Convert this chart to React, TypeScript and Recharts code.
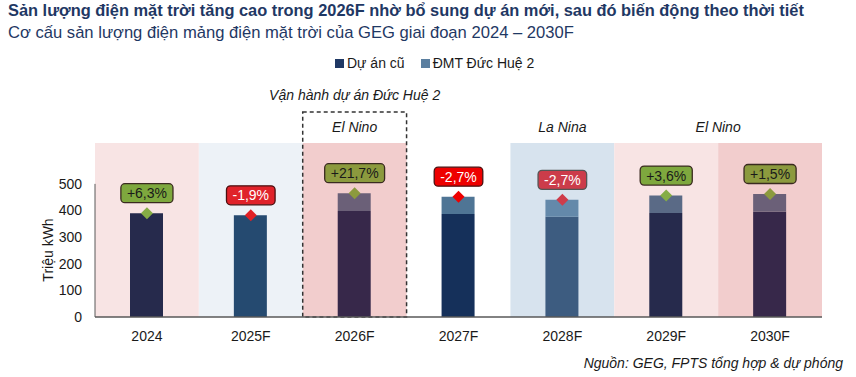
import {
  ComposedChart,
  Bar,
  Line,
  XAxis,
  YAxis,
  Cell,
  LabelList,
  ReferenceArea,
  ReferenceLine,
} from 'recharts';

const years = ['2024', '2025F', '2026F', '2027F', '2028F', '2029F', '2030F'];
const oldProjects = [390, 382, 398, 387, 377, 391, 395];
const ducHue2 = [0, 0, 67, 65, 63, 65, 67];
const growth = ['+6,3%', '-1,9%', '+21,7%', '-2,7%', '-2,7%', '+3,6%', '+1,5%'];
const yTicks = [0, 100, 200, 300, 400, 500];

// colours per year (the bands tint what sits on them)
const bandFill = ['#f8e4e4', '#edf2f7', '#f2cdcd', 'none', '#d7e3ee', '#f8e4e4', '#f2cdcd'];
const oldFill = ['#262a4c', '#254a70', '#37284a', '#15305a', '#3d5c80', '#262a4c', '#37284a'];
const newFill = ['#5a6a86', '#5a6a86', '#6b6078', '#4f7595', '#6489aa', '#5a6a86', '#6b6078'];
const markFill = ['#86ad45', '#e02025', '#8c9a3e', '#ee0000', '#cf3c4a', '#86ad45', '#8c9a3e'];
const pillFill = ['#7ea83e', '#e0222a', '#8c9a3e', '#ee0000', '#cc3c4a', '#7ea83e', '#8c9a3e'];
const pillText = ['#1a1a1a', '#ffffff', '#1a1a1a', '#ffffff', '#ffffff', '#1a1a1a', '#1a1a1a'];
const pillStroke = ['#3a2a20', '#4a1010', '#3a2a20', '#4a1010', '#555555', '#3a2a20', '#3a2a20'];

const data = years.map((year, i) => ({
  year,
  old: oldProjects[i],
  duchue: ducHue2[i],
  total: oldProjects[i] + ducHue2[i],
  growth: growth[i],
}));

const FONT = '"Liberation Sans", Arial, sans-serif';
const NAVY = '#1f3864';

const charW: Record<string, number> = { '+': 8.2, '-': 4.7, ',': 3.9, '%': 12.4 };
const textWidth = (s: string) => s.split('').reduce((w, c) => w + (charW[c] ?? 7.8), 0);

const Diamond = (props: any) => {
  const { cx, cy, index } = props;
  if (cx == null || cy == null) return <g key={index} />;
  const r = 6;
  return (
    <path
      key={index}
      d={`M${cx},${cy - r}L${cx + r},${cy}L${cx},${cy + r}L${cx - r},${cy}Z`}
      fill={markFill[index]}
    />
  );
};

const Pill = (props: any) => {
  const { x, y, value, index } = props;
  if (x == null || y == null) return null;
  const w = textWidth(String(value)) + 12;
  const h = 19;
  const cy = y - 20;
  return (
    <g>
      <rect
        x={x - w / 2}
        y={cy - h / 2}
        width={w}
        height={h}
        rx={4}
        fill={pillFill[index]}
        stroke={pillStroke[index]}
        strokeWidth={1.3}
      />
      <text x={x} y={cy + 5} textAnchor="middle" fontSize={14} fontFamily={FONT} fill={pillText[index]}>
        {value}
      </text>
    </g>
  );
};

const italicLabel = (value: string, position: any, offset = 5) => ({
  value,
  position,
  offset,
  fill: '#1a1a1a',
  fontSize: 14,
  fontStyle: 'italic',
  fontFamily: FONT,
});

const LegendBox = () => (
  <div
    style={{
      position: 'absolute',
      left: 335,
      top: 55,
      display: 'flex',
      alignItems: 'center',
      fontSize: 14,
      color: '#1a1a1a',
      whiteSpace: 'nowrap',
    }}
  >
    <span style={{ width: 9, height: 9, background: NAVY, display: 'inline-block', marginRight: 3 }} />
    <span style={{ marginRight: 16 }}>Dự án cũ</span>
    <span style={{ width: 9, height: 9, background: '#5b7fa0', display: 'inline-block', marginRight: 3 }} />
    <span>ĐMT Đức Huệ 2</span>
  </div>
);

export default function App() {
  return (
    <div style={{ position: 'absolute', left: 0, top: 0, width: 856, height: 377, background: '#fff', fontFamily: FONT }}>
      <div style={{ position: 'absolute', left: 0, top: 0 }}>
        <ComposedChart
          width={856}
          height={377}
          data={data}
          margin={{ top: 112, right: 34, bottom: 30, left: 45 }}
        >
          {years.map((y, i) =>
            bandFill[i] === 'none' ? null : (
              <ReferenceArea key={y} x1={y} x2={y} y1={0} y2={654} fill={bandFill[i]} fillOpacity={1} stroke="none" />
            )
          )}
          <ReferenceArea
            x1="2026F"
            x2="2026F"
            y1={0}
            y2={770}
            fill="none"
            stroke="#333"
            strokeWidth={1.5}
            strokeDasharray="4 3"
            label={italicLabel('Vận hành dự án Đức Huệ 2', 'top', 12)}
          />
          <ReferenceArea x1="2026F" x2="2026F" y1={654} y2={770} fill="none" stroke="none" label={italicLabel('El Nino', 'center')} />
          <ReferenceArea x1="2028F" x2="2028F" y1={654} y2={770} fill="none" stroke="none" label={italicLabel('La Nina', 'center')} />
          <ReferenceArea x1="2029F" x2="2030F" y1={654} y2={770} fill="none" stroke="none" label={italicLabel('El Nino', 'center')} />
          <XAxis
            dataKey="year"
            tickLine={false}
            axisLine={{ stroke: '#595959', strokeWidth: 1.5 }}
            tick={{ fill: '#1a1a1a', fontSize: 14, fontFamily: FONT }}
            tickMargin={8}
            height={30}
          />
          <YAxis
            domain={[0, 770]}
            ticks={yTicks}
            width={50}
            axisLine={false}
            tickLine={false}
            tick={{ fill: '#1a1a1a', fontSize: 14, fontFamily: FONT }}
            tickMargin={7}
          />
          <ReferenceLine
            segment={[
              { x: '2024', y: 0 },
              { x: '2024', y: 500 },
            ]}
            position="start"
            stroke="#595959"
            strokeWidth={1}
          />
          <Bar dataKey="old" name="Dự án cũ" stackId="a" barSize={33} isAnimationActive={false}>
            {data.map((d, i) => (
              <Cell key={d.year} fill={oldFill[i]} />
            ))}
          </Bar>
          <Bar dataKey="duchue" name="ĐMT Đức Huệ 2" stackId="a" barSize={33} isAnimationActive={false}>
            {data.map((d, i) => (
              <Cell key={d.year} fill={newFill[i]} />
            ))}
          </Bar>
          <Line dataKey="total" stroke="none" dot={Diamond} activeDot={false} legendType="none" isAnimationActive={false}>
            <LabelList dataKey="growth" content={Pill} />
          </Line>
        </ComposedChart>
      </div>
      <div style={{ position: 'absolute', left: 8, top: 1, fontSize: 16.4, fontWeight: 'bold', color: NAVY, whiteSpace: 'nowrap' }}>
        Sản lượng điện mặt trời tăng cao trong 2026F nhờ bổ sung dự án mới, sau đó biến động theo thời tiết
      </div>
      <div style={{ position: 'absolute', left: 8, top: 23, fontSize: 16.6, color: NAVY, whiteSpace: 'nowrap' }}>
        Cơ cấu sản lượng điện mảng điện mặt trời của GEG giai đoạn 2024 – 2030F
      </div>
      <LegendBox />
      <div
        style={{
          position: 'absolute',
          left: 48,
          top: 250,
          transform: 'translate(-50%, -50%) rotate(-90deg)',
          fontSize: 14,
          color: '#1a1a1a',
          whiteSpace: 'nowrap',
        }}
      >
        Triệu kWh
      </div>
      <div style={{ position: 'absolute', right: 13, top: 355, fontSize: 14, fontStyle: 'italic', color: '#1a1a1a' }}>
        Nguồn: GEG, FPTS tổng hợp &amp; dự phóng
      </div>
    </div>
  );
}
